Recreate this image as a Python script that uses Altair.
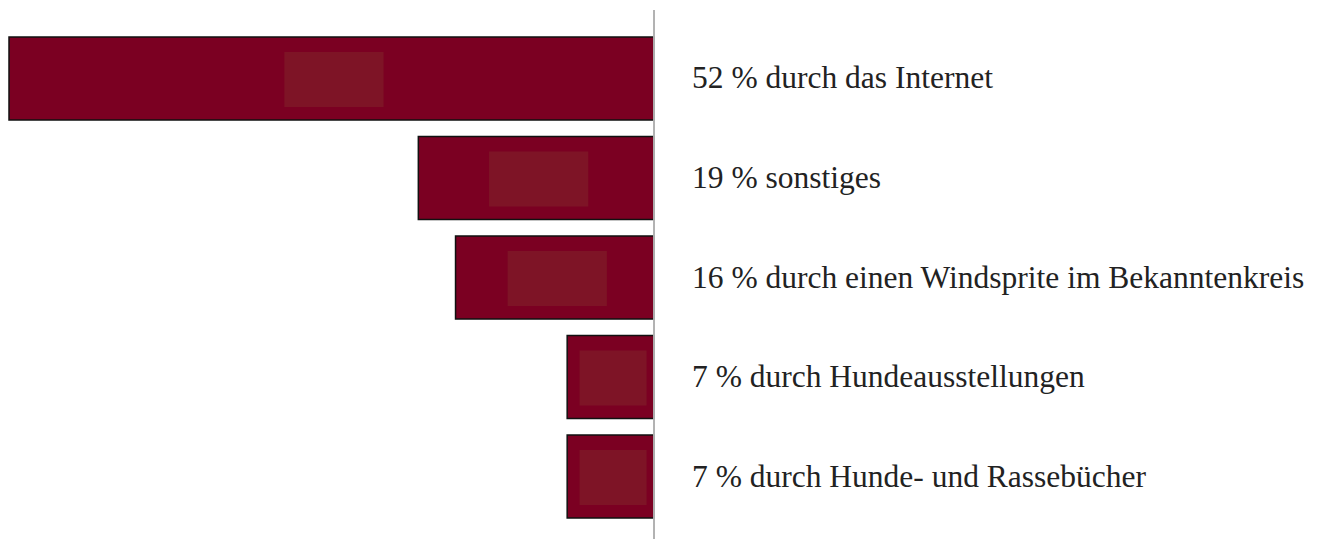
import altair as alt
import pandas as pd

labels = [
    "52 % durch das Internet",
    "19 % sonstiges",
    "16 % durch einen Windsprite im Bekanntenkreis",
    "7 % durch Hundeausstellungen",
    "7 % durch Hunde- und Rassebücher",
]
values = [52, 19, 16, 7, 7]

df = pd.DataFrame({"label": labels, "value": values})

x_scale = alt.Scale(domain=[0, 52], reverse=True, nice=False, zero=True)
y_scale = alt.Scale(paddingInner=0.166, paddingOuter=0.27)

base = alt.Chart(df).encode(
    y=alt.Y("label:N", sort=None, scale=y_scale, axis=None)
)

bars = base.mark_bar(color="#7b0022", stroke="#111111", strokeWidth=1.5).encode(
    x=alt.X("value:Q", scale=x_scale, axis=None),
    x2=alt.datum(0),
)

inner = base.transform_calculate(
    half="min(4, datum.value / 2 - 0.8)",
    c="datum.value / 2 - 0.2",
).transform_calculate(
    a="datum.c - datum.half", b="datum.c + datum.half"
).mark_bar(color="#7e1426", height=55, yOffset=1).encode(
    x=alt.X("a:Q", scale=x_scale, axis=None),
    x2="b:Q",
)

rule = alt.Chart(df).mark_rule(color="#b0b0b0", strokeWidth=1).encode(
    x=alt.datum(0, scale=x_scale, axis=None)
)

text = base.mark_text(
    align="left", baseline="middle", dx=38, dy=1, fontSize=31.5,
    font="Liberation Serif", color="#222222"
).encode(
    x=alt.datum(0, axis=None),
    text="label:N",
)

chart = alt.layer(bars, inner, rule, text).properties(
    width=645, height=535,
    background="white",
    autosize=alt.AutoSizeParams(type="none"),
    padding={"left": 1, "top": 2, "right": 654, "bottom": 0},
).configure_view(stroke=None, strokeWidth=0)

chart.save("out.html", embed_options={"renderer": "svg", "actions": False})
